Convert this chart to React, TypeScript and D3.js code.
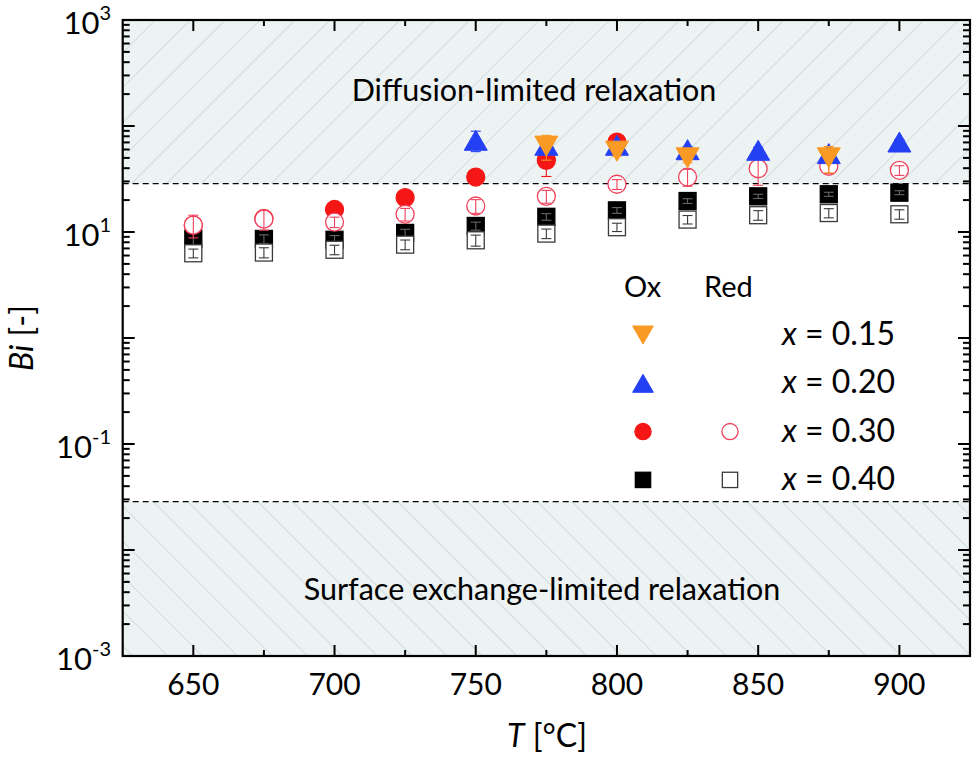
import * as d3 from 'd3';

// temperatures (°C)
const temps = [650, 675, 700, 725, 750, 775, 800, 825, 850, 875, 900];

// x = 0.15, oxidation
const t015 = [775, 800, 825, 875];
const ox015 = [64.6, 57.9, 50.1, 50.1];
const err015 = [17, 6, 5, 14];

// x = 0.20, oxidation
const t020 = [750, 775, 800, 825, 850, 875, 900];
const ox020 = [73.3, 65.8, 65.8, 59.8, 59, 54.9, 70.6];
const err020 = [16, 4, 5, 4, 4, 5, 4];

// x = 0.30, oxidation / reduction
const t030ox = [650, 675, 700, 725, 750, 775, 800];
const ox030 = [11.6, 13.4, 16.3, 21.1, 33, 47.4, 70.6];
const err030ox = [1.5, 1.5, 2, 2, 4, 14, 8];
const red030 = [11.6, 13.2, 12.4, 14.7, 17.6, 21.7, 28.2, 33, 39.6, 41.7, 38.2];
const err030red = [2.8, 2.8, 1.4, 2, 2.6, 3, 3, 6, 12, 6, 4];

// x = 0.40, oxidation / reduction
const ox040 = [8.6, 8.6, 8.45, 9.8, 11.4, 13.9, 16, 19.6, 21.7, 22.7, 23.5];
const err040ox = [1.2, 0.8, 0.8, 0.8, 1, 1, 1, 1, 1, 1, 1];
const red040 = [6.3, 6.4, 6.8, 7.6, 8.35, 9.66, 11.1, 13.1, 14.4, 15.1, 14.7];
const err040red = [0.6, 0.7, 0.7, 0.8, 1, 1, 1, 1.2, 1.5, 1.5, 1.5];

// Bi limits of the two regimes
const biLow = 0.0286;
const biHigh = 28.6;

const xTicks = [650, 700, 750, 800, 850, 900];
const xMinor = [675, 725, 775, 825, 875];
const decades = [-3, -2, -1, 0, 1, 2, 3];
const labelledDecades = [-3, -1, 1, 3];
const legendLabels = ['0.15', '0.20', '0.30', '0.40'];

const W = 975;
const H = 758;
const L = 122.7, R = 970, T = 20, B = 656;
const FONT = 'Lato, "Open Sans", sans-serif';

const C_ORANGE = '#f99a25';
const C_BLUE = '#2440f4';
const C_RED = '#f51616';
const C_PINK = '#f0405c';
const C_GRAY = '#3a3a3a';

const x = d3.scaleLinear().domain([625, 925]).range([L, R]);
const y = d3.scaleLog().domain([1e-3, 1e3]).range([B, T]);

type Shape = 'down' | 'up' | 'circle' | 'square';

function Marker({ cx, cy, shape, fill, stroke, s = 1 }: { cx: number; cy: number; shape: Shape; fill: string; stroke: string; s?: number }) {
  if (shape === 'up' || shape === 'down') {
    const w = 23 * s, h = 20 * s;
    const d = shape === 'up'
      ? `M${cx - w / 2},${cy + h / 2}L${cx + w / 2},${cy + h / 2}L${cx},${cy - h / 2}Z`
      : `M${cx - w / 2},${cy - h / 2}L${cx + w / 2},${cy - h / 2}L${cx},${cy + h / 2}Z`;
    return <path d={d} fill={fill} stroke={stroke} strokeWidth={1} />;
  }
  if (shape === 'circle') {
    return <circle cx={cx} cy={cy} r={9 * s} fill={fill} stroke={stroke} strokeWidth={1.3} />;
  }
  const a = 17 * s;
  return <rect x={cx - a / 2} y={cy - a / 2} width={a} height={a} fill={fill} stroke={stroke} strokeWidth={1.3} />;
}

function Series({ ts, vals, errs, shape, fill, stroke, errColor }: { ts: number[]; vals: number[]; errs: number[]; shape: Shape; fill: string; stroke: string; errColor: string }) {
  return (
    <g>
      {vals.map((v, i) => {
        const cx = x(ts[i]);
        const cy = y(v);
        const y1 = y(v + errs[i]);
        const y0 = y(Math.max(v - errs[i], 1e-3));
        return (
          <g key={i}>
            <Marker cx={cx} cy={cy} shape={shape} fill={fill} stroke={stroke} />
            <g stroke={errColor} strokeWidth={1.1}>
              <line x1={cx} x2={cx} y1={y0} y2={y1} />
              <line x1={cx - 5} x2={cx + 5} y1={y0} y2={y0} />
              <line x1={cx - 5} x2={cx + 5} y1={y1} y2={y1} />
            </g>
          </g>
        );
      })}
    </g>
  );
}

export default function App() {
  const yMinor: number[] = [];
  decades.slice(0, -1).forEach((e) => {
    for (let k = 2; k <= 9; k++) yMinor.push(k * Math.pow(10, e));
  });

  const legendRows: { ox: [Shape, string, string] | null; red: [Shape, string, string] | null }[] = [
    { ox: ['down', C_ORANGE, C_ORANGE], red: null },
    { ox: ['up', C_BLUE, C_BLUE], red: null },
    { ox: ['circle', C_RED, C_RED], red: ['circle', '#fff', C_PINK] },
    { ox: ['square', '#000', '#000'], red: ['square', '#fff', C_GRAY] },
  ];

  return (
    <svg width={W} height={H} style={{ position: 'absolute', left: 0, top: 0, background: '#fff' }} fontFamily={FONT}>
      <defs>
        <pattern id="hatchUp" patternUnits="userSpaceOnUse" width={24.7} height={10} patternTransform="rotate(45)">
          <line x1={0} y1={0} x2={0} y2={10} stroke="#bccfd0" strokeWidth={1.2} />
        </pattern>
        <pattern id="hatchDown" patternUnits="userSpaceOnUse" width={24.7} height={10} patternTransform="rotate(-45)">
          <line x1={0} y1={0} x2={0} y2={10} stroke="#bccfd0" strokeWidth={1.2} />
        </pattern>
      </defs>

      {/* regimes */}
      <rect x={L} y={T} width={R - L} height={y(biHigh) - T} fill="#edf2f2" />
      <rect x={L} y={T} width={R - L} height={y(biHigh) - T} fill="url(#hatchUp)" />
      <rect x={L} y={y(biLow)} width={R - L} height={B - y(biLow)} fill="#edf2f2" />
      <rect x={L} y={y(biLow)} width={R - L} height={B - y(biLow)} fill="url(#hatchDown)" />
      <line x1={L} x2={R} y1={y(biHigh)} y2={y(biHigh)} stroke="#000" strokeWidth={1.3} strokeDasharray="6,4" />
      <line x1={L} x2={R} y1={y(biLow)} y2={y(biLow)} stroke="#000" strokeWidth={1.3} strokeDasharray="6,4" />

      <text x={534} y={101} textAnchor="middle" fontSize={30.5}>Diffusion-limited relaxation</text>
      <text x={542} y={600} textAnchor="middle" fontSize={30.5}>Surface exchange-limited relaxation</text>

      {/* data */}
      <Series ts={temps} vals={ox040} errs={err040ox} shape="square" fill="#000" stroke="#000" errColor="#666" />
      <Series ts={temps} vals={red040} errs={err040red} shape="square" fill="#fff" stroke={C_GRAY} errColor={C_GRAY} />
      <Series ts={t030ox} vals={ox030} errs={err030ox} shape="circle" fill={C_RED} stroke={C_RED} errColor={C_RED} />
      <Series ts={temps} vals={red030} errs={err030red} shape="circle" fill="#fff" stroke={C_PINK} errColor={C_PINK} />
      <Series ts={t020} vals={ox020} errs={err020} shape="up" fill={C_BLUE} stroke={C_BLUE} errColor={C_BLUE} />
      <Series ts={t015} vals={ox015} errs={err015} shape="down" fill={C_ORANGE} stroke={C_ORANGE} errColor={C_ORANGE} />

      {/* legend */}
      <text x={624} y={297} fontSize={29}>Ox</text>
      <text x={704} y={297} fontSize={29}>Red</text>
      {legendRows.map((r, i) => {
        const base = 345 + i * 48.3;
        return (
          <g key={i}>
            {r.ox && <Marker cx={643} cy={base - 10} shape={r.ox[0]} fill={r.ox[1]} stroke={r.ox[2]} s={0.9} />}
            {r.red && <Marker cx={730} cy={base - 10} shape={r.red[0]} fill={r.red[1]} stroke={r.red[2]} s={0.9} />}
            <text x={782} y={base} fontSize={32}>
              <tspan fontStyle="italic">x</tspan> = {legendLabels[i]}
            </text>
          </g>
        );
      })}

      {/* ticks */}
      <g stroke="#000" strokeWidth={2}>
        {xTicks.map((t) => (
          <g key={t}>
            <line x1={x(t)} x2={x(t)} y1={B} y2={B - 11} />
            <line x1={x(t)} x2={x(t)} y1={T} y2={T + 11} />
          </g>
        ))}
        {xMinor.map((t) => (
          <g key={t}>
            <line x1={x(t)} x2={x(t)} y1={B} y2={B - 6} />
            <line x1={x(t)} x2={x(t)} y1={T} y2={T + 6} />
          </g>
        ))}
        {decades.map((e) => {
          const yy = y(Math.pow(10, e));
          return (
            <g key={e}>
              <line x1={L} x2={L + 12} y1={yy} y2={yy} />
              <line x1={R} x2={R - 12} y1={yy} y2={yy} />
            </g>
          );
        })}
        {yMinor.map((v, i) => (
          <g key={i}>
            <line x1={L} x2={L + 7} y1={y(v)} y2={y(v)} />
            <line x1={R} x2={R - 7} y1={y(v)} y2={y(v)} />
          </g>
        ))}
      </g>
      <rect x={L} y={T} width={R - L} height={B - T} fill="none" stroke="#000" strokeWidth={2.2} />

      {/* tick labels */}
      {xTicks.map((t) => (
        <text key={t} x={x(t)} y={695} textAnchor="middle" fontSize={30}>{t}</text>
      ))}
      {labelledDecades.map((e) => (
        <text key={e} x={111} y={y(Math.pow(10, e)) + 14} textAnchor="end" fontSize={31}>
          10<tspan dy={-14} fontSize={20}>{e}</tspan>
        </text>
      ))}

      {/* axis titles */}
      <text x={547} y={747} textAnchor="middle" fontSize={32}>
        <tspan fontStyle="italic">T</tspan> [°C]
      </text>
      <text transform={`translate(33,${(T + B) / 2}) rotate(-90)`} textAnchor="middle" fontSize={32}>
        <tspan fontStyle="italic">Bi</tspan> [-]
      </text>
    </svg>
  );
}
